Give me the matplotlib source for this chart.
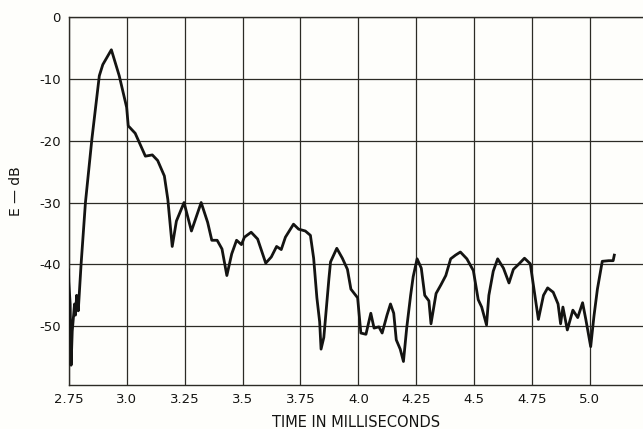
import numpy as np
import matplotlib
matplotlib.use("Agg")
import matplotlib.pyplot as plt

# energy-time curve
time_ms = [2.748, 2.749, 2.755, 2.759, 2.764, 2.774, 2.778, 2.783, 2.790, 2.802,
           2.821, 2.849, 2.881, 2.896, 2.933, 2.967, 2.999, 3.006, 3.036, 3.080,
           3.110, 3.133, 3.162, 3.177, 3.196, 3.214, 3.247, 3.279, 3.321, 3.349,
           3.367, 3.390, 3.411, 3.432, 3.453, 3.474, 3.495, 3.508, 3.537, 3.565,
           3.600, 3.624, 3.647, 3.667, 3.685, 3.720, 3.742, 3.771, 3.793, 3.807,
           3.821, 3.833, 3.839, 3.851, 3.873, 3.880, 3.907, 3.931, 3.953, 3.968,
           3.997, 4.011, 4.033, 4.054, 4.068, 4.089, 4.103, 4.124, 4.139, 4.153,
           4.164, 4.181, 4.195, 4.209, 4.226, 4.237, 4.254, 4.272, 4.287, 4.305,
           4.314, 4.336, 4.357, 4.378, 4.399, 4.420, 4.441, 4.469, 4.497, 4.518,
           4.533, 4.554, 4.564, 4.583, 4.602, 4.627, 4.651, 4.670, 4.692, 4.718,
           4.743, 4.757, 4.778, 4.800, 4.818, 4.842, 4.863, 4.874, 4.884, 4.903,
           4.927, 4.948, 4.969, 4.983, 5.004, 5.018, 5.033, 5.054, 5.082, 5.101,
           5.106]
level_db = [-40.9, -42.8, -46.4, -56.3, -50.8, -46.4, -48.2, -45.0, -47.5, -40.1,
            -30.0, -19.7, -9.5, -7.7, -5.3, -9.5, -14.6, -17.6, -18.8, -22.5,
            -22.3, -23.2, -25.7, -29.5, -37.1, -33.0, -30.0, -34.6, -30.0, -33.2,
            -36.1, -36.1, -37.5, -41.8, -38.3, -36.1, -36.8, -35.6, -34.8, -35.9,
            -39.8, -38.8, -37.1, -37.6, -35.6, -33.5, -34.3, -34.6, -35.3, -39.0,
            -45.4, -49.3, -53.7, -51.8, -42.3, -39.6, -37.4, -39.0, -40.8, -44.0,
            -45.4, -51.1, -51.3, -47.9, -50.3, -50.1, -51.1, -48.2, -46.4, -47.9,
            -52.2, -53.7, -55.7, -50.3, -45.0, -42.0, -39.1, -40.6, -45.0, -45.9,
            -49.6, -44.7, -43.3, -41.8, -39.1, -38.5, -38.0, -39.1, -41.0, -45.7,
            -46.9, -49.8, -45.0, -41.1, -39.1, -40.6, -43.0, -40.8, -40.0, -39.0,
            -39.9, -43.5, -48.9, -45.0, -43.8, -44.5, -46.4, -49.6, -46.9, -50.6,
            -47.4, -48.6, -46.2, -48.9, -53.3, -48.4, -44.0, -39.5, -39.4, -39.4,
            -38.5]

x_ticks = [2.75, 3.0, 3.25, 3.5, 3.75, 4.0, 4.25, 4.5, 4.75, 5.0]
x_tick_labels = ["2.75", "3.0", "3.25", "3.5", "3.75", "4.0", "4.25", "4.5", "4.75", "5.0"]
y_ticks = [0, -10, -20, -30, -40, -50]
y_tick_labels = ["0", "-10", "-20", "-30", "-40", "-50"]

ink = "#141412"
grid_col = "#2c2b25"

fig = plt.figure(figsize=(6.43, 4.29), dpi=100)
fig.patch.set_facecolor("#fefefb")
ax = fig.add_axes([69/643, 1-385/429, 1-69/643, (385-17)/429])
ax.set_facecolor("#fefefb")

ax.plot(time_ms, level_db, color=ink, lw=2.0, solid_joinstyle="round", zorder=3)

ax.set_xlim(2.75, 5.23)
ax.set_ylim(-59.5, 0)
ax.set_xticks(x_ticks)
ax.set_xticklabels(x_tick_labels)
ax.set_yticks(y_ticks)
ax.set_yticklabels(y_tick_labels)
ax.tick_params(length=0, labelsize=9.5, colors=ink)
ax.tick_params(axis="x", pad=6)
ax.tick_params(axis="y", pad=6)

ax.grid(True, color=grid_col, lw=0.9)
ax.set_axisbelow(True)
for s in ["left", "bottom", "top"]:
    ax.spines[s].set_color(grid_col)
    ax.spines[s].set_linewidth(1.0)
ax.spines["right"].set_visible(False)

ax.set_xlabel("TIME IN MILLISECONDS", fontsize=10.5, color=ink, labelpad=6)
fig.text(16/643, 1-191/429, "E — dB", rotation=90, ha="center", va="center",
         fontsize=10, color=ink)

fig.savefig("out.png", dpi=100, facecolor=fig.get_facecolor())
